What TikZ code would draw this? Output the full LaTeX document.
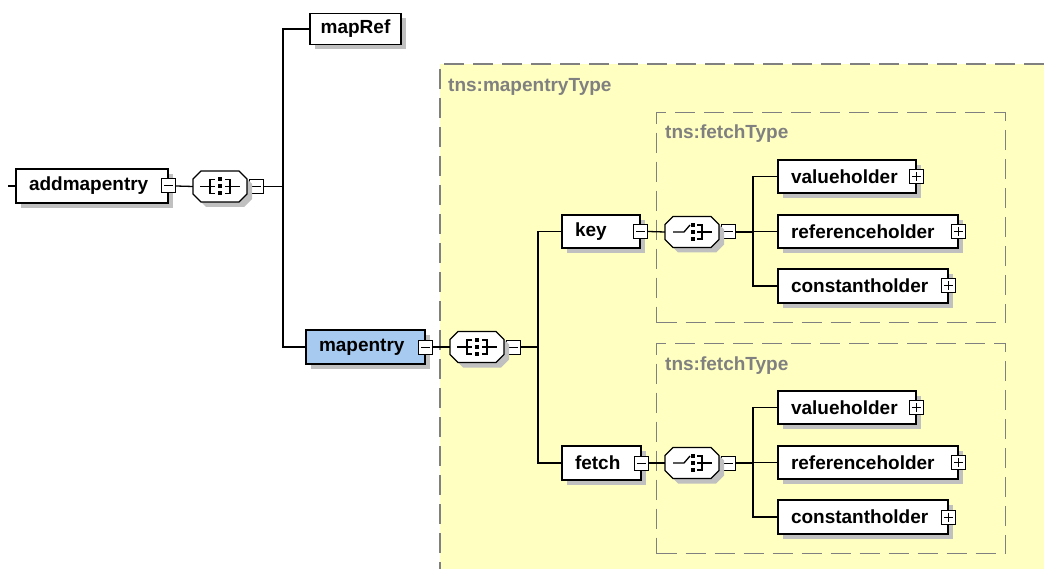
\documentclass[tikz,border=0pt]{standalone}
\usepackage{fontspec}
\setmainfont{Liberation Sans}
\usetikzlibrary{shadows}

\definecolor{typebg}{RGB}{255,255,194}
\definecolor{selblue}{RGB}{166,202,240}
\definecolor{shadowgray}{RGB}{192,192,192}
\definecolor{typegray}{RGB}{128,128,128}

% octagon outline (with its drop shadow) round a compositor node
\newcommand\octoutline[1]{%
  \begin{scope}[shift={(#1.center)}]
    \fill[shadowgray] (-22,-2.5) -- (-14,-10.5) -- (24,-10.5) -- (32,-2.5) --
      (32,12.5) -- (24,20.5) -- (-14,20.5) -- (-22,12.5) -- cycle;
    \filldraw[fill=white, line width=1.3pt] (-27,-7.5) -- (-19,-15.5) -- (19,-15.5) --
      (27,-7.5) -- (27,7.5) -- (19,15.5) -- (-19,15.5) -- (-27,7.5) -- cycle;
  \end{scope}}

% sequence compositor mark
\newcommand\seqmark[1]{%
  \octoutline{#1}%
  \begin{scope}[shift={(#1.center)}, line width=1.3pt]
    \draw (-20,0) -- (-5,0);
    \draw (-5,-7) -- (-10,-7) -- (-10,7) -- (-5,7);
    \fill (-2,-9) rectangle (2,-5);
    \fill (-2,-2) rectangle (2,2);
    \fill (-2,5) rectangle (2,9);
    \draw (5,-7) -- (10,-7) -- (10,7) -- (5,7);
    \draw (5,0) -- (20,0);
  \end{scope}}

% choice compositor mark
\newcommand\choicemark[1]{%
  \octoutline{#1}%
  \begin{scope}[shift={(#1.center)}, line width=1.3pt]
    \draw (-19,0) -- (-8,0) -- (-2,-7);
    \fill (-1,-9) rectangle (3,-5);
    \fill (-1,-2) rectangle (3,2);
    \fill (-1,5) rectangle (3,9);
    \draw (5,-7) -- (10,-7) -- (10,7) -- (5,7);
    \draw (5,0) -- (20,0);
  \end{scope}}

\begin{document}
\begin{tikzpicture}[x=1pt,y=-1pt,
  font=\fontsize{19}{21}\selectfont\bfseries,
  conn/.style={line width=1.3pt},
  dropshadow/.style={general shadow={fill=shadowgray, shadow xshift=5pt, shadow yshift=-5pt}},
  elem/.style={draw, line width=1.3pt, fill=white, rectangle, minimum height=33pt,
    inner ysep=0pt, inner xsep=13pt, align=left, dropshadow},
  oct/.style={rectangle, minimum width=54pt, minimum height=31pt, inner sep=0pt},
  minusbox/.style={draw, fill=white, line width=1pt, minimum size=14pt, inner sep=0pt,
    path picture={\draw[line width=1pt]
      ([xshift=2.5pt]path picture bounding box.west) --
      ([xshift=-2.5pt]path picture bounding box.east);}},
  plusbox/.style={minusbox, path picture={\draw[line width=1pt]
      ([xshift=2.5pt]path picture bounding box.west) --
      ([xshift=-2.5pt]path picture bounding box.east)
      ([yshift=-2.5pt]path picture bounding box.north) --
      ([yshift=2.5pt]path picture bounding box.south);}},
  typebox/.style={draw=typegray, line width=1.2pt, dash pattern=on 20pt off 9pt,
    rectangle, inner sep=0pt},
  typelabel/.style={text=typegray, inner sep=0pt, anchor=west}
]
\useasboundingbox (0,0) rectangle (1044,569);
\fill[white] (0,0) rectangle (1044,569);

% complex type frame of mapentry
\fill[typebg] (440,64) rectangle (1044,569);
\draw[draw=typegray, line width=1.2pt, dash pattern=on 20pt off 9pt]
  (1044,64) -- (440,64) -- (440,569);
\node[typelabel] (mt-l) at (448,87) {tns:mapentryType};

% fetchType frames
\node[typebox, minimum width=349pt, minimum height=210pt, anchor=north west]
  (ft1) at (656,112) {};
\node[typelabel] (ft1-l) at (665,134) {tns:fetchType};
\node[typebox, minimum width=349pt, minimum height=210pt, anchor=north west]
  (ft2) at (656,343) {};
\node[typelabel] (ft2-l) at (665,366) {tns:fetchType};

% bus positions
\coordinate (b1) at (283,0);
\coordinate (b2) at (538,0);
\coordinate (b3) at (753,0);
\coordinate (in) at (8,186);

% root element
\node[elem, text width=126pt, minimum height=34pt] (addmapentry) at (92,186) {addmapentry};
\node[minusbox] (addmapentry-m) at (addmapentry.east) {};
\node[oct] (seq1) at (220,186.5) {};
\node[minusbox, anchor=west] (seq1-m) at ([xshift=2pt]seq1.east) {};
\seqmark{seq1}

\node[elem, minimum width=91pt, minimum height=31pt, inner xsep=0pt, align=center] (mapRef) at (355.5,29) {mapRef};
\node[elem, text width=93pt, minimum height=34pt, fill=selblue] (mapentry) at (365.5,347) {mapentry};
\node[minusbox] (mapentry-m) at (mapentry.east) {};
\node[oct] (seq2) at (477,347) {};
\node[minusbox, anchor=west] (seq2-m) at ([xshift=2pt]seq2.east) {};
\seqmark{seq2}

% key / fetch
\node[elem, text width=52pt] (key) at (601,231.5) {key};
\node[minusbox] (key-m) at (key.east) {};
\node[oct] (ch1) at (692,232) {};
\node[minusbox, anchor=west] (ch1-m) at ([xshift=2pt]ch1.east) {};
\choicemark{ch1}

\node[elem, text width=53pt, minimum height=34pt] (fetch) at (601.5,463) {fetch};
\node[minusbox] (fetch-m) at (fetch.east) {};
\node[oct] (ch2) at (692,463) {};
\node[minusbox, anchor=west] (ch2-m) at ([xshift=2pt]ch2.east) {};
\choicemark{ch2}

% holders of key
\node[elem, text width=112pt] (vh1) at (847,176.5) {valueholder};
\node[plusbox] (vh1-p) at (vh1.east) {};
\node[elem, text width=154pt] (rh1) at (868,231.5) {referenceholder};
\node[plusbox] (rh1-p) at (rh1.east) {};
\node[elem, text width=144pt, minimum height=34pt] (cst1) at (863,286) {constantholder};
\node[plusbox] (cst1-p) at (cst1.east) {};

% holders of fetch
\node[elem, text width=112pt] (vh2) at (847,407.5) {valueholder};
\node[plusbox] (vh2-p) at (vh2.east) {};
\node[elem, text width=154pt] (rh2) at (868,462.5) {referenceholder};
\node[plusbox] (rh2-p) at (rh2.east) {};
\node[elem, text width=144pt, minimum height=34pt] (cst2) at (863,517) {constantholder};
\node[plusbox] (cst2-p) at (cst2.east) {};

% connectors
\draw[conn] (in) -- (addmapentry.west);
\draw[conn] (addmapentry-m.east) -- (seq1.west);
\draw[conn] (seq1-m.east) -- (seq1-m.east -| b1);
\draw[conn] (mapRef.west) -- (mapRef.west -| b1) -- (mapentry.west -| b1) -- (mapentry.west);

\draw[conn] (mapentry-m.east) -- (seq2.west);
\draw[conn] (seq2-m.east) -- (seq2-m.east -| b2);
\draw[conn] (key.west) -- (key.west -| b2) -- (fetch.west -| b2) -- (fetch.west);

\draw[conn] (key-m.east) -- (ch1.west);
\draw[conn] (ch1-m.east) -- (ch1-m.east -| b3);
\draw[conn] (vh1.west) -- (vh1.west -| b3) -- (cst1.west -| b3) -- (cst1.west);
\draw[conn] (rh1.west -| b3) -- (rh1.west);

\draw[conn] (fetch-m.east) -- (ch2.west);
\draw[conn] (ch2-m.east) -- (ch2-m.east -| b3);
\draw[conn] (vh2.west) -- (vh2.west -| b3) -- (cst2.west -| b3) -- (cst2.west);
\draw[conn] (rh2.west -| b3) -- (rh2.west);
\end{tikzpicture}
\end{document}
